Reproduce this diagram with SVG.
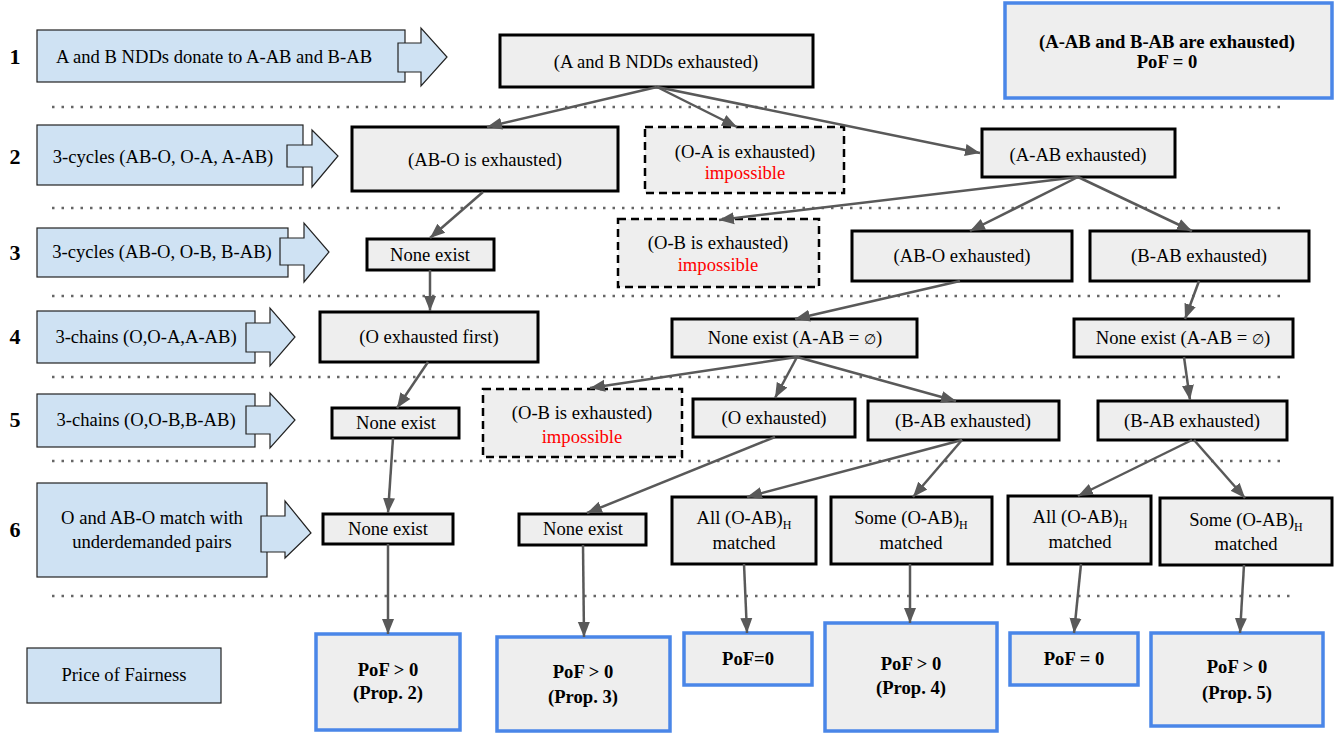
<svg xmlns="http://www.w3.org/2000/svg" width="1340" height="734" viewBox="0 0 1340 734" font-family="'Liberation Serif', 'Times New Roman', 'DejaVu Serif', serif">
<defs>
<style>
text{font-family:'Liberation Serif','Times New Roman','DejaVu Serif',serif;font-size:18.6px;fill:#000;text-anchor:middle}
.num{font-size:22px;font-weight:bold}
.b{font-weight:bold}
.red{fill:#ff0000}
.sm{font-size:14px}
.lab{fill:#cfe2f3;stroke:#222;stroke-width:1.2}
.nd{fill:#eeeeee;stroke:#000;stroke-width:3}
.ds{fill:#eeeeee;stroke:#000;stroke-width:2.5;stroke-dasharray:8 5}
.pf{fill:#eeeeee;stroke:#4a86e8;stroke-width:3.5}
.dot{stroke:#666;stroke-width:2.5;stroke-dasharray:2.5 7;fill:none}
.cn{stroke:#595959;stroke-width:2.5;fill:none;marker-end:url(#ah)}
</style>
<marker id="ah" markerUnits="userSpaceOnUse" markerWidth="16" markerHeight="14" viewBox="0 0 16 14" refX="15" refY="7" orient="auto">
<path d="M0,1 L15,7 L0,13 Z" fill="#595959"/>
</marker>
</defs>

<g id="separators">
<line class="dot" x1="52" y1="107" x2="1285" y2="107"/>
<line class="dot" x1="52" y1="208" x2="1285" y2="208"/>
<line class="dot" x1="52" y1="296" x2="1285" y2="296"/>
<line class="dot" x1="52" y1="377" x2="1285" y2="377"/>
<line class="dot" x1="52" y1="461" x2="1285" y2="461"/>
<line class="dot" x1="52" y1="596" x2="1290" y2="596"/>
</g>

<g id="row-numbers">
<text class="num" x="15" y="64">1</text>
<text class="num" x="15" y="164">2</text>
<text class="num" x="15" y="260">3</text>
<text class="num" x="15" y="344">4</text>
<text class="num" x="15" y="427">5</text>
<text class="num" x="15" y="537">6</text>
</g>

<g id="label-1">
<rect class="lab" x="37" y="30" width="368" height="52"/>
<polygon class="lab" points="398,43 421,43 421,28 447,57 421,86 421,72 398,72"/>
<text x="214" y="63">A and B NDDs donate to A-AB and B-AB</text>
</g>
<g id="label-2">
<rect class="lab" x="37" y="125" width="266" height="60"/>
<polygon class="lab" points="287,145 312,145 312,130 338,156 312,187 312,167 287,167"/>
<text x="163" y="163">3-cycles (AB-O, O-A, A-AB)</text>
</g>
<g id="label-3">
<rect class="lab" x="37" y="228" width="251" height="49"/>
<polygon class="lab" points="280,238 304,238 304,223 329,252 304,282 304,265 280,265"/>
<text x="162" y="258">3-cycles (AB-O, O-B, B-AB)</text>
</g>
<g id="label-4">
<rect class="lab" x="37" y="311" width="218" height="52"/>
<polygon class="lab" points="246,323 270,323 270,308 295,337 270,366 270,352 246,352"/>
<text x="146" y="343">3-chains (O,O-A,A-AB)</text>
</g>
<g id="label-5">
<rect class="lab" x="37" y="394" width="218" height="53"/>
<polygon class="lab" points="246,406 270,406 270,393 295,420 270,448 270,434 246,434"/>
<text x="146" y="426">3-chains (O,O-B,B-AB)</text>
</g>
<g id="label-6">
<rect class="lab" x="37" y="483" width="230" height="94"/>
<polygon class="lab" points="261,516 285,516 285,501 311,533 285,558 285,552 261,552"/>
<text x="152" y="524">O and AB-O match with</text>
<text x="152" y="548">underdemanded pairs</text>
</g>
<g id="label-pof">
<rect class="lab" x="27" y="648" width="194" height="55"/>
<text x="124" y="681">Price of Fairness</text>
</g>

<g id="n-ndd">
<rect class="nd" x="500" y="35" width="313" height="52"/>
<text x="656" y="68">(A and B NDDs exhausted)</text>
</g>
<g id="n-top-pof">
<rect class="pf" x="1005" y="3" width="327" height="95"/>
<text class="b" x="1167" y="48">(A-AB and B-AB are exhausted)</text>
<text class="b" x="1167" y="68">PoF = 0</text>
</g>

<g id="n-abo-2">
<rect class="nd" x="352" y="127" width="266" height="64"/>
<text x="485" y="166">(AB-O is exhausted)</text>
</g>
<g id="n-oa-2">
<rect class="ds" x="645" y="127" width="199" height="66"/>
<text x="745" y="158">(O-A is exhausted)</text>
<text class="red" x="745" y="179">impossible</text>
</g>
<g id="n-aab-2">
<rect class="nd" x="982" y="129" width="193" height="48"/>
<text x="1078" y="161">(A-AB exhausted)</text>
</g>

<g id="n-none-3">
<rect class="nd" x="367" y="239" width="127" height="31"/>
<text x="430" y="261">None exist</text>
</g>
<g id="n-ob-3">
<rect class="ds" x="618" y="219" width="201" height="68"/>
<text x="718" y="249">(O-B is exhausted)</text>
<text class="red" x="718" y="271">impossible</text>
</g>
<g id="n-abo-3">
<rect class="nd" x="852" y="231" width="220" height="50"/>
<text x="962" y="262">(AB-O exhausted)</text>
</g>
<g id="n-bab-3">
<rect class="nd" x="1090" y="231" width="219" height="50"/>
<text x="1199" y="262">(B-AB exhausted)</text>
</g>

<g id="n-ofirst-4">
<rect class="nd" x="320" y="312" width="218" height="50"/>
<text x="429" y="343">(O exhausted first)</text>
</g>
<g id="n-none-4a">
<rect class="nd" x="672" y="319" width="245" height="38"/>
<text x="795" y="344">None exist (A-AB = <tspan class="sm">∅</tspan>)</text>
</g>
<g id="n-none-4b">
<rect class="nd" x="1074" y="319" width="219" height="38"/>
<text x="1183" y="344">None exist (A-AB = <tspan class="sm">∅</tspan>)</text>
</g>

<g id="n-none-5">
<rect class="nd" x="332" y="408" width="127" height="30"/>
<text x="396" y="429">None exist</text>
</g>
<g id="n-ob-5">
<rect class="ds" x="483" y="389" width="199" height="68"/>
<text x="582" y="419">(O-B is exhausted)</text>
<text class="red" x="582" y="443">impossible</text>
</g>
<g id="n-o-5">
<rect class="nd" x="693" y="399" width="162" height="38"/>
<text x="774" y="424">(O exhausted)</text>
</g>
<g id="n-bab-5a">
<rect class="nd" x="868" y="401" width="191" height="39"/>
<text x="963" y="427">(B-AB exhausted)</text>
</g>
<g id="n-bab-5b">
<rect class="nd" x="1098" y="401" width="189" height="39"/>
<text x="1192" y="427">(B-AB exhausted)</text>
</g>

<g id="n-none-6a">
<rect class="nd" x="323" y="514" width="130" height="30"/>
<text x="388" y="535">None exist</text>
</g>
<g id="n-none-6b">
<rect class="nd" x="519" y="514" width="127" height="31"/>
<text x="583" y="535">None exist</text>
</g>
<g id="n-all-6a">
<rect class="nd" x="672" y="497" width="144" height="67"/>
<text x="744" y="524">All (O-AB)<tspan font-size="12" dy="5">H</tspan></text>
<text x="744" y="549">matched</text>
</g>
<g id="n-some-6a">
<rect class="nd" x="831" y="497" width="161" height="67"/>
<text x="911" y="524">Some (O-AB)<tspan font-size="12" dy="5">H</tspan></text>
<text x="911" y="549">matched</text>
</g>
<g id="n-all-6b">
<rect class="nd" x="1008" y="496" width="143" height="68"/>
<text x="1080" y="523">All (O-AB)<tspan font-size="12" dy="5">H</tspan></text>
<text x="1080" y="548">matched</text>
</g>
<g id="n-some-6b">
<rect class="nd" x="1160" y="498" width="172" height="67"/>
<text x="1246" y="526">Some (O-AB)<tspan font-size="12" dy="5">H</tspan></text>
<text x="1246" y="550">matched</text>
</g>

<g id="p-2">
<rect class="pf" x="316" y="634" width="144" height="96"/>
<text class="b" x="388" y="676">PoF &gt; 0</text>
<text class="b" x="388" y="699">(Prop. 2)</text>
</g>
<g id="p-3">
<rect class="pf" x="497" y="637" width="173" height="94"/>
<text class="b" x="583" y="678">PoF &gt; 0</text>
<text class="b" x="583" y="703">(Prop. 3)</text>
</g>
<g id="p-0a">
<rect class="pf" x="684" y="633" width="128" height="52"/>
<text class="b" x="748" y="665">PoF=0</text>
</g>
<g id="p-4">
<rect class="pf" x="825" y="623" width="172" height="108"/>
<text class="b" x="911" y="670">PoF &gt; 0</text>
<text class="b" x="911" y="694">(Prop. 4)</text>
</g>
<g id="p-0b">
<rect class="pf" x="1010" y="633" width="128" height="52"/>
<text class="b" x="1074" y="665">PoF = 0</text>
</g>
<g id="p-5">
<rect class="pf" x="1151" y="633" width="172" height="93"/>
<text class="b" x="1237" y="673">PoF &gt; 0</text>
<text class="b" x="1237" y="699">(Prop. 5)</text>
</g>

<g id="connectors">
<line class="cn" x1="657" y1="87" x2="487" y2="127"/>
<line class="cn" x1="657" y1="87" x2="737" y2="127"/>
<line class="cn" x1="657" y1="87" x2="980" y2="153"/>
<line class="cn" x1="483" y1="192" x2="430" y2="238"/>
<line class="cn" x1="1078" y1="177" x2="719" y2="220"/>
<line class="cn" x1="1078" y1="177" x2="970" y2="231"/>
<line class="cn" x1="1078" y1="177" x2="1192" y2="231"/>
<line class="cn" x1="430" y1="270" x2="430" y2="311"/>
<line class="cn" x1="960" y1="281" x2="795" y2="319"/>
<line class="cn" x1="1199" y1="281" x2="1185" y2="319"/>
<line class="cn" x1="428" y1="362" x2="397" y2="408"/>
<line class="cn" x1="797" y1="357" x2="590" y2="388"/>
<line class="cn" x1="797" y1="357" x2="775" y2="398"/>
<line class="cn" x1="797" y1="357" x2="956" y2="401"/>
<line class="cn" x1="1184" y1="357" x2="1190" y2="400"/>
<line class="cn" x1="393" y1="438" x2="388" y2="513"/>
<line class="cn" x1="775" y1="437" x2="587" y2="513"/>
<line class="cn" x1="962" y1="440" x2="747" y2="497"/>
<line class="cn" x1="962" y1="440" x2="913" y2="497"/>
<line class="cn" x1="1192" y1="440" x2="1078" y2="496"/>
<line class="cn" x1="1194" y1="440" x2="1245" y2="498"/>
<line class="cn" x1="388" y1="544" x2="388" y2="634"/>
<line class="cn" x1="583" y1="545" x2="584" y2="637"/>
<line class="cn" x1="744" y1="564" x2="747" y2="633"/>
<line class="cn" x1="910" y1="564" x2="910" y2="623"/>
<line class="cn" x1="1081" y1="564" x2="1074" y2="633"/>
<line class="cn" x1="1244" y1="565" x2="1240" y2="633"/>
</g>
</svg>
